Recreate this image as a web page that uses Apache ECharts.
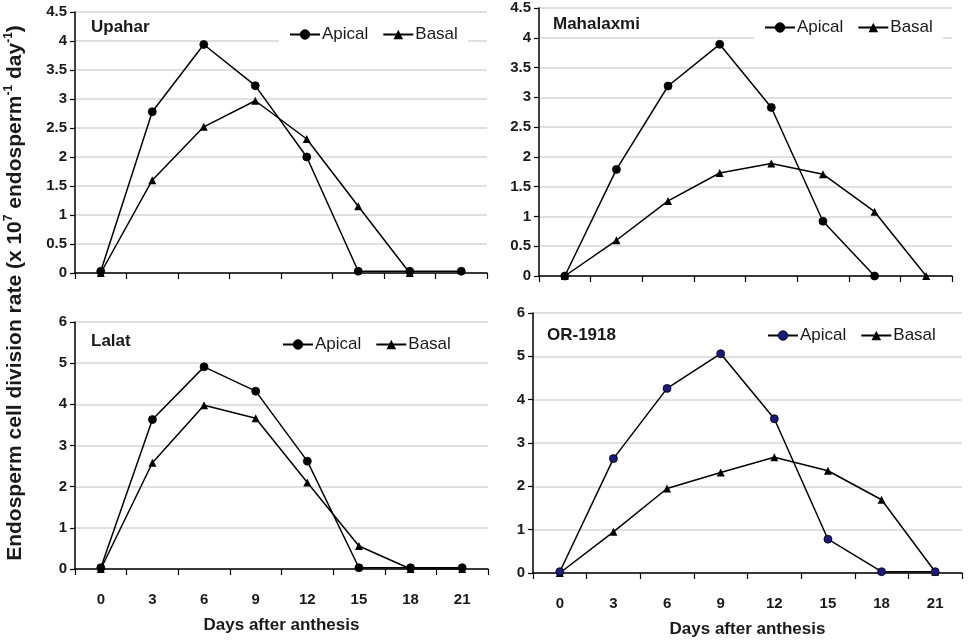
<!DOCTYPE html>
<html>
<head>
<meta charset="utf-8">
<script src="https://cdn.jsdelivr.net/npm/echarts@6/dist/echarts.min.js"></script>
<style>
html,body{margin:0;padding:0;background:#fff;}
#main{width:969px;height:641px;}
</style>
</head>
<body>
<div id="main"></div>
<script>
// days after anthesis
var days = ['0', '3', '6', '9', '12', '15', '18', '21'];

// Upahar
var upaharApical = [0.03, 2.78, 3.94, 3.23, 2.0, 0.03, 0.03, 0.03];
var upaharBasal = [0, 1.6, 2.52, 2.97, 2.31, 1.15, 0, null];
// Mahalaxmi
var mahaApical = [0, 1.79, 3.19, 3.89, 2.83, 0.92, 0, null];
var mahaBasal = [0, 0.6, 1.26, 1.73, 1.89, 1.71, 1.08, 0];
// Lalat
var lalatApical = [0.03, 3.63, 4.91, 4.32, 2.62, 0.03, 0.03, 0.03];
var lalatBasal = [0, 2.58, 3.98, 3.66, 2.1, 0.56, 0, 0];
// OR-1918
var orApical = [0.03, 2.64, 4.26, 5.06, 3.56, 0.78, 0.03, 0.03];
var orBasal = [0, 0.95, 1.95, 2.32, 2.67, 2.36, 1.69, 0.03];

var panelNames = ['Upahar', 'Mahalaxmi', 'Lalat', 'OR-1918'];
var yMax = [4.5, 4.5, 6, 6];
var yStep = [0.5, 0.5, 1, 1];

var grids = [
    {left: 75, top: 12, width: 412, height: 261},
    {left: 539, top: 8, width: 413, height: 268},
    {left: 75, top: 322, width: 413, height: 247},
    {left: 533, top: 313, width: 429, height: 260}
];
var legendPos = [
    {left: 279, top: 20},
    {left: 754, top: 13},
    {left: 272, top: 330},
    {left: 757, top: 321}
];
var titlePos = [
    {x: 91, y: 27},
    {x: 553, y: 24},
    {x: 91, y: 341},
    {x: 547, y: 335}
];

var apicalData = [upaharApical, mahaApical, lalatApical, orApical];
var basalData = [upaharBasal, mahaBasal, lalatBasal, orBasal];
var apicalColor = ['#000', '#000', '#000', '#1b1b7a'];

var xAxes = [], yAxes = [], series = [], legends = [], graphics = [];
for (var i = 0; i < 4; i++) {
    var bottomRow = i >= 2;
    xAxes.push({
        type: 'category',
        gridIndex: i,
        data: days,
        boundaryGap: true,
        axisLine: {lineStyle: {color: '#000', width: 1.5}},
        axisTick: {show: true, length: 6, lineStyle: {color: '#000', width: 1.2}},
        axisLabel: {show: bottomRow, color: '#1a1a1a', fontWeight: 'bold', fontSize: 15,
            fontFamily: 'Liberation Sans, Arial', margin: 23},
        splitLine: {show: false},
        name: bottomRow ? 'Days after anthesis' : '',
        nameLocation: 'middle',
        nameGap: 48,
        nameTextStyle: {color: '#1a1a1a', fontWeight: 'bold', fontSize: 17, fontFamily: 'Liberation Sans, Arial'}
    });
    yAxes.push({
        type: 'value',
        gridIndex: i,
        min: 0,
        max: yMax[i],
        interval: yStep[i],
        axisLine: {show: true, lineStyle: {color: '#000', width: 1.5}},
        axisTick: {show: true, length: 5, lineStyle: {color: '#000', width: 1.2}},
        axisLabel: {color: '#1a1a1a', fontWeight: 'bold', fontSize: 15, fontFamily: 'Liberation Sans, Arial', margin: 8},
        splitLine: {show: true, lineStyle: {color: '#d6d6d6', width: 1.5}}
    });
    series.push({
        name: 'Apical',
        type: 'line',
        xAxisIndex: i,
        yAxisIndex: i,
        data: apicalData[i],
        symbol: 'circle',
        symbolSize: 8,
        lineStyle: {color: '#000', width: 1.5},
        itemStyle: {color: apicalColor[i], borderColor: '#000', borderWidth: 0.8},
        z: 3
    });
    series.push({
        name: 'Basal',
        type: 'line',
        xAxisIndex: i,
        yAxisIndex: i,
        data: basalData[i],
        symbol: 'triangle',
        symbolSize: 8,
        lineStyle: {color: '#000', width: 1.5},
        itemStyle: {color: '#000'},
        z: 2
    });
    legends.push({
        left: legendPos[i].left,
        top: legendPos[i].top,
        orient: 'horizontal',
        backgroundColor: '#fff',
        padding: [6, 10],
        itemWidth: 30,
        itemHeight: 12,
        itemGap: 14,
        selectedMode: false,
        textStyle: {color: '#1a1a1a', fontSize: 17, fontFamily: 'Liberation Sans, Arial', padding: [0, 0, 0, -3]},
        data: [
            {name: 'Apical', itemStyle: {color: apicalColor[i], borderColor: '#000', borderWidth: 0.8}},
            {name: 'Basal', itemStyle: {color: '#000'}}
        ]
    });
    graphics.push({
        type: 'text',
        x: titlePos[i].x,
        y: titlePos[i].y,
        style: {
            text: panelNames[i],
            fill: '#1a1a1a',
            font: 'bold 17px "Liberation Sans", Arial',
            textAlign: 'left',
            textVerticalAlign: 'middle'
        },
        z: 10
    });
}

// rotated y axis title with superscripts
graphics.push({
    type: 'text',
    x: 15,
    y: 293,
    rotation: Math.PI / 2,
    style: {
        text: '{a|Endosperm cell division rate (x 10}{s|7}{a| endosperm}{s|-1}{a| day}{s|-1}{a|)}',
        rich: {
            a: {fontSize: 21, fontWeight: 'bold', fill: '#1a1a1a', fontFamily: 'Liberation Sans, Arial', lineHeight: 24},
            s: {fontSize: 12, fontWeight: 'bold', fill: '#1a1a1a', fontFamily: 'Liberation Sans, Arial', verticalAlign: 'top', lineHeight: 24, padding: [0, 0, 9, 0]}
        },
        textAlign: 'center',
        textVerticalAlign: 'middle'
    },
    z: 10
});

var myChart = echarts.init(document.getElementById('main'));
var option = {
    backgroundColor: '#fff',
    animation: false,
    grid: grids,
    xAxis: xAxes,
    yAxis: yAxes,
    legend: legends,
    series: series,
    graphic: graphics
};
myChart.setOption(option);
</script>
</body>
</html>
